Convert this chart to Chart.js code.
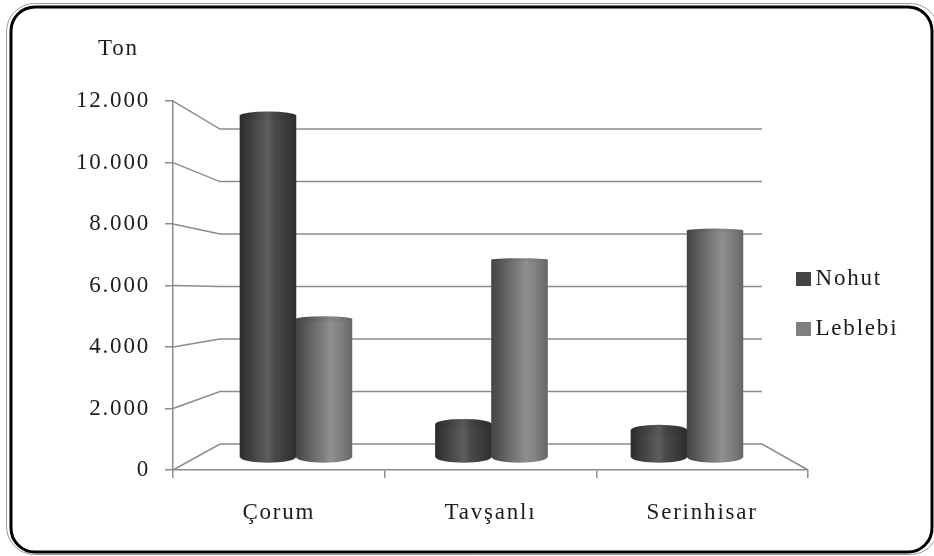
<!DOCTYPE html>
<html>
<head>
<meta charset="utf-8">
<style>
  html, body { margin: 0; padding: 0; background: #fff; }
  canvas { display: block; }
</style>
<script src="https://cdn.jsdelivr.net/npm/chart.js@4"></script>
</head>
<body>
<canvas id="chart" width="934" height="556"></canvas>
<script>
const categories = ["Çorum", "Tavşanlı", "Serinhisar"];
const nohutValues = [11980, 1160, 950];
const leblebiValues = [4840, 6920, 7950];
const yTickValues = [0, 2000, 4000, 6000, 8000, 10000, 12000];
const yTickLabels = ["0", "2.000", "4.000", "6.000", "8.000", "10.000", "12.000"];

const FONT = { family: "'Liberation Serif', serif", size: 23, weight: "normal" };
const TEXT = "#1c1c1c";
const LINE = "#8c8c8c";

// gradients across the cylinders, left to right
const nohutStops = [[0, "#2c2c2c"], [0.5, "#5e5e5e"], [0.62, "#4a4a4a"], [1, "#2e2e2e"]];
const leblebiStops = [[0, "#444444"], [0.62, "#8f8f8f"], [0.8, "#808080"], [1, "#666666"]];

// flat square for the legend, drawn as a point style so the gap to the text can be tight
function swatch(color) {
  const c = document.createElement("canvas");
  c.width = 15;
  c.height = 14;
  const g = c.getContext("2d");
  g.fillStyle = color;
  g.fillRect(0, 0, 15, 14);
  return c;
}
const swatches = [swatch("#444444"), swatch("#808080")];

// ellipse gets flat near eye level, as in the 3D view of the original
function capHeight(y) {
  return 1.5 + Math.abs(y - 250) * 0.02;
}

const frame3d = {
  id: "frame3d",
  beforeDraw(chart) {
    const ctx = chart.ctx;
    ctx.letterSpacing = "1.8px";
    ctx.save();
    ctx.strokeStyle = "#9a9a9a";
    ctx.lineWidth = 1;
    ctx.beginPath();
    ctx.roundRect(6.5, 3.5, 932, 551, 28);
    ctx.stroke();
    ctx.strokeStyle = "#000";
    ctx.lineWidth = 3;
    ctx.beginPath();
    ctx.roundRect(11, 7, 921, 545, 24);
    ctx.stroke();
    ctx.restore();
  },
  afterLayout(chart) {
    const legend = chart.legend;
    legend.left = 775;
    legend.right = 934;
    legend.top = 240;
    legend.bottom = 500;
    chart.titleBlock.left = 98;
  },
  beforeDatasetsDraw(chart) {
    // back wall and floor
    const ctx = chart.ctx;
    const { left, right } = chart.chartArea;
    const front = chart.scales.y;
    const back = chart.scales.yBack;
    ctx.save();
    ctx.strokeStyle = LINE;
    ctx.lineWidth = 1.5;
    yTickValues.forEach((v) => {
      ctx.beginPath();
      ctx.moveTo(left, front.getPixelForValue(v));
      ctx.lineTo(left + 47, back.getPixelForValue(v));
      ctx.lineTo(right - 46, back.getPixelForValue(v));
      if (v === 0) ctx.lineTo(right, front.getPixelForValue(v));
      ctx.stroke();
    });
    ctx.restore();
  },
  afterDatasetsDraw(chart) {
    const ctx = chart.ctx;
    [nohutStops, leblebiStops].forEach((stops, d) => {
      chart.getDatasetMeta(d).data.forEach((bar) => {
        const l = bar.x - bar.width / 2;
        const r = bar.x + bar.width / 2;
        const g = ctx.createLinearGradient(l, 0, r, 0);
        stops.forEach((s) => g.addColorStop(s[0], s[1]));
        const rx = bar.width / 2;
        ctx.save();
        ctx.fillStyle = g;
        ctx.beginPath();
        ctx.ellipse(bar.x, bar.y, rx, capHeight(bar.y), 0, Math.PI, 0);
        ctx.ellipse(bar.x, bar.base, rx, capHeight(bar.base), 0, 0, Math.PI);
        ctx.closePath();
        ctx.fill();
        // lid, a bit darker than the side
        ctx.fillStyle = "rgba(0,0,0,0.05)";
        ctx.beginPath();
        ctx.ellipse(bar.x, bar.y, rx, capHeight(bar.y), 0, 0, Math.PI * 2);
        ctx.fill();
        ctx.restore();
      });
    });
  },
};

new Chart(document.getElementById("chart"), {
  type: "bar",
  data: {
    datasets: [
      {
        label: "Nohut",
        data: nohutValues.map((v, i) => ({ x: i, y: v })),
        backgroundColor: "#444444",
        xAxisID: "xBar",
        yAxisID: "yBar",
        barThickness: 56,
      },
      {
        label: "Leblebi",
        data: leblebiValues.map((v, i) => ({ x: i, y: v })),
        backgroundColor: "#808080",
        xAxisID: "xBar",
        yAxisID: "yBar",
        barThickness: 56,
      },
    ],
  },
  options: {
    responsive: false,
    animation: false,
    devicePixelRatio: 1,
    layout: { padding: { left: 0, right: 126, top: 0, bottom: 0 } },
    plugins: {
      tooltip: { enabled: false },
      title: {
        display: true,
        text: "Ton",
        align: "start",
        color: TEXT,
        font: FONT,
        padding: { top: 35.5, bottom: 38 },
      },
      legend: {
        position: "chartArea",
        align: "start",
        labels: {
          color: TEXT,
          font: FONT,
          padding: 27,
          usePointStyle: true,
          pointStyleWidth: 2,
          generateLabels(chart) {
            const items = Chart.defaults.plugins.legend.labels.generateLabels(chart);
            items.forEach((item, i) => { item.pointStyle = swatches[i]; });
            return items;
          },
        },
      },
    },
    scales: {
      // visible front axes
      x: {
        type: "category",
        labels: categories,
        offset: true,
        afterFit(scale) { scale.height = 86; },
        grid: { offset: true, drawOnChartArea: false, tickLength: 8, color: LINE, lineWidth: 1.5 },
        border: { color: LINE, width: 1.5 },
        ticks: { color: TEXT, font: FONT, padding: 21, maxRotation: 0 },
      },
      y: {
        type: "linear",
        position: "left",
        min: 0,
        max: 12000,
        afterFit(scale) { scale.width = 173; },
        afterBuildTicks(scale) { scale.ticks = yTickValues.map((value) => ({ value })); },
        grid: { drawOnChartArea: false, tickLength: 8, color: LINE, lineWidth: 1.5 },
        border: { color: LINE, width: 1.5 },
        ticks: {
          color: TEXT,
          font: FONT,
          padding: 15,
          callback: (value) => yTickLabels[yTickValues.indexOf(value)],
        },
      },
      // hidden axes for the middle depth plane, where the cylinders stand
      xBar: { type: "linear", axis: "x", display: false, offset: false, min: -0.629, max: 2.619 },
      yBar: { type: "linear", axis: "y", display: false, min: -456, max: 12491 },
      // hidden axis for the back wall
      yBack: { type: "linear", axis: "y", display: false, min: -990, max: 13067 },
    },
  },
  plugins: [frame3d],
});
</script>
</body>
</html>
